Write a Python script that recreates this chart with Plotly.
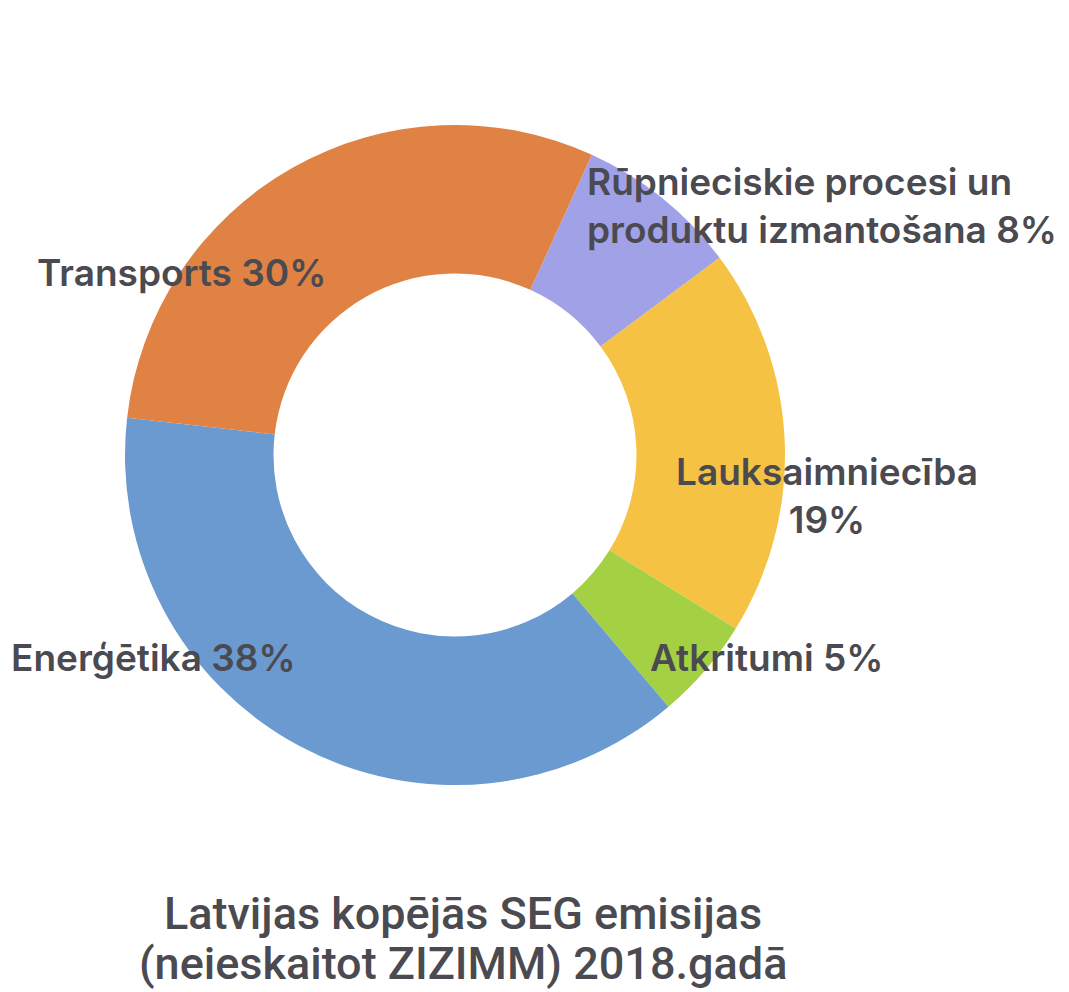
import plotly.graph_objects as go

W, H = 1069, 992

categories = ["Rūpnieciskie procesi un produktu izmantošana", "Lauksaimniecība",
              "Atkritumi", "Enerģētika", "Transports"]
values = [8, 19, 5, 38, 30]
colors = ["#A1A1E7", "#F5C243", "#A4D143", "#6A9AD0", "#DF8244"]

# label text templates (with line breaks) and their placement
label_lines = ["Rūpnieciskie procesi un<br>produktu izmantošana {v}%",
               "Lauksaimniecība<br>{v}%",
               "Atkritumi {v}%",
               "Enerģētika {v}%",
               "Transports {v}%"]
label_pos = [(585, 205, "left", "left"),
             (827, 495, "center", "center"),
             (648, 657, "left", "left"),
             (9, 657, "left", "left"),
             (35, 272, "left", "left")]

title_lines = ["Latvijas kopējās SEG emisijas", "(neieskaitot ZIZIMM) 2018.gadā"]
title_y = [913, 963]

TEXT = "#4A4A50"

cx, cy, r = 455, 455, 330

fig = go.Figure()
fig.add_trace(go.Pie(
    labels=categories, values=values, sort=False, direction="clockwise",
    rotation=24.5, hole=0.55,
    marker=dict(colors=colors, line=dict(width=0)),
    textinfo="none", hoverinfo="label+percent", showlegend=False,
    domain=dict(x=[(cx - r) / W, (cx + r) / W], y=[1 - (cy + r) / H, 1 - (cy - r) / H]),
))

annotations = []
for tmpl, v, (px, py, anchor, align) in zip(label_lines, values, label_pos):
    annotations.append(dict(
        text=tmpl.format(v=v), x=px / W, y=1 - py / H, xref="paper", yref="paper",
        xanchor=anchor, yanchor="middle", align=align, showarrow=False,
        font=dict(family="Inter, Roboto, sans-serif", size=37, color=TEXT, weight=600),
    ))

for line, py in zip(title_lines, title_y):
    annotations.append(dict(
        text=line, x=463 / W, y=1 - py / H, xref="paper", yref="paper",
        xanchor="center", yanchor="middle", align="center", showarrow=False,
        font=dict(family="Roboto", size=45, color=TEXT, weight=500),
    ))

fig.update_layout(
    width=W, height=H, margin=dict(l=0, r=0, t=0, b=0),
    paper_bgcolor="white", plot_bgcolor="white",
    annotations=annotations,
)

fig.write_html("out.html")
